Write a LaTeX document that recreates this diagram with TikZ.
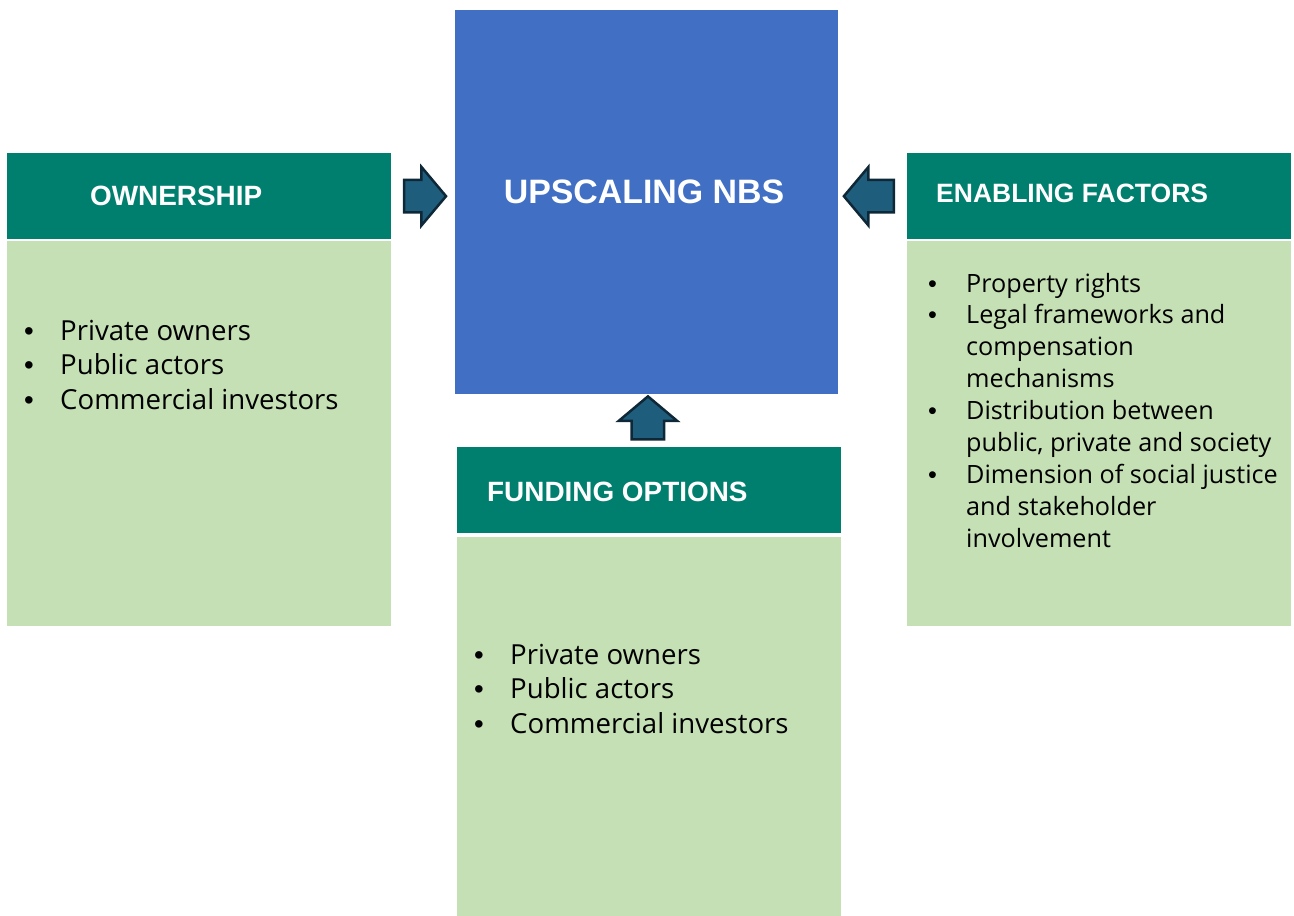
\documentclass[tikz,border=0pt]{standalone}
\usepackage{fontspec}
\setmainfont{Open Sans}
\newfontfamily\headfont{Liberation Sans}
\usepackage{tikz}
\usetikzlibrary{shapes}
\usetikzlibrary{arrows}
\usetikzlibrary{positioning}
\usetikzlibrary{calc}

\definecolor{headteal}{RGB}{0,127,111}
\definecolor{nbsblue}{RGB}{65,111,196}
\definecolor{listgreen}{RGB}{197,224,180}
\definecolor{arrowfill}{RGB}{31,93,125}
\definecolor{arrowline}{RGB}{14,40,56}

\newcommand{\bul}{{\headfont\textbullet}}

\begin{document}
\begin{tikzpicture}[x=1bp,y=-1bp]
\tikzstyle{header} = [rectangle, fill=headteal, minimum width=384bp,
minimum height=86bp, anchor=north west, inner sep=0pt]
\tikzstyle{listbox} = [rectangle, fill=listgreen, minimum width=384bp,
anchor=north west, inner sep=0pt]
\tikzstyle{title} = [text=white, font=\headfont\bfseries\fontsize{28}{32}\selectfont,
anchor=west, inner sep=0pt]
\tikzstyle{items} = [anchor=base west, inner sep=0pt, align=left]
\tikzstyle{blockarrow} = [single arrow, draw=arrowline, line width=2.5bp, fill=arrowfill,
minimum height=42bp, inner xsep=0pt, inner ysep=15bp, single arrow head extend=13bp,
single arrow head indent=0pt, single arrow tip angle=100]
\useasboundingbox (0,0) rectangle (1294,916);
% centre block
\node [rectangle, fill=nbsblue, minimum width=383bp, minimum height=384bp,
anchor=north west, inner sep=0pt] (nbs) at (455,10) {};
\node [title, anchor=center, font=\headfont\bfseries\fontsize{34}{38}\selectfont]
(nbstitle) at (644,192) {UPSCALING NBS};
% left column
\node [header] (ownhead) at (7,153) {};
\node [listbox, minimum height=385bp] (ownlist) at (7,241) {};
\node [title, right=83bp of ownhead.west] (owntitle) {OWNERSHIP};
\node [items, font=\fontsize{27.7}{35}\selectfont] (ownitems) at (24,340)
{\begin{tabular}[t]{@{}p{36bp}@{}l@{}}
\bul & Private owners\\
\bul & Public actors\\
\bul & Commercial investors
\end{tabular}};
% right column
\node [header] (enablehead) at (907,153) {};
\node [listbox, minimum height=385bp] (enablelist) at (907,241) {};
\node [title, right=29bp of enablehead.west, yshift=3bp,
font=\headfont\bfseries\fontsize{26.6}{32}\selectfont] (enabletitle) {ENABLING FACTORS};
\node [items, font=\fontsize{25.3}{32}\selectfont] (enableitems) at (928,292)
{\begin{tabular}[t]{@{}p{38bp}@{}l@{}}
\bul & Property rights\\
\bul & Legal frameworks and\\
 & compensation\\
 & mechanisms\\
\bul & Distribution between\\
 & public, private and society\\
\bul & Dimension of social justice\\
 & and stakeholder\\
 & involvement
\end{tabular}};
% bottom column
\node [header] (fundhead) at (457,447) {};
\node [listbox, minimum height=379bp] (fundlist) at (457,537) {};
\node [title, right=30bp of fundhead.west, yshift=-2bp] (fundtitle) {FUNDING OPTIONS};
\node [items, font=\fontsize{27.7}{35}\selectfont] (funditems) at (474,664)
{\begin{tabular}[t]{@{}p{36bp}@{}l@{}}
\bul & Private owners\\
\bul & Public actors\\
\bul & Commercial investors
\end{tabular}};
% block arrows into the centre
\node [blockarrow, xshift=-5bp] (ownarrow)
at ($(ownhead.east)!0.5!(nbs.west |- ownhead.east)$) {};
\node [blockarrow, shape border rotate=180, minimum height=50bp, xshift=3bp] (enablearrow)
at ($(nbs.east |- enablehead.west)!0.5!(enablehead.west)$) {};
\node [blockarrow, shape border rotate=90, minimum height=43bp,
inner xsep=15bp, inner ysep=0pt, yshift=-4bp] (fundarrow)
at ($(nbs.south)!0.5!(fundhead.north)$) {};
\end{tikzpicture}
\end{document}
